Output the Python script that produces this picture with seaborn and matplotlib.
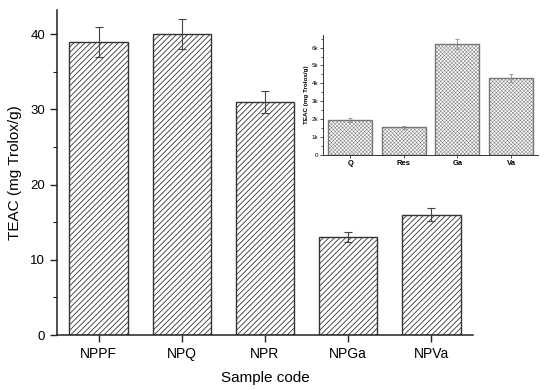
import matplotlib
matplotlib.use("Agg")
import matplotlib.pyplot as plt
import seaborn as sns
from matplotlib.ticker import MultipleLocator, FuncFormatter

# ---- data ----
categories = ["NPPF", "NPQ", "NPR", "NPGa", "NPVa"]
teac = [39.0, 40.0, 31.0, 13.0, 16.0]
teac_err = [2.0, 2.0, 1.5, 0.65, 0.85]

inset_categories = ["Q", "Res", "Ga", "Va"]
inset_teac = [1930, 1530, 6200, 4280]
inset_err = [120, 70, 300, 220]

sns.set_theme(style="ticks")
plt.rcParams["font.family"] = ["Liberation Sans", "DejaVu Sans"]
plt.rcParams["text.color"] = "black"
plt.rcParams["axes.labelcolor"] = "black"

fig = plt.figure(figsize=(5.5, 3.9), dpi=100)
ax = fig.add_axes([0.1036, 0.141, 0.7564, 0.833])

with plt.rc_context({"hatch.linewidth": 0.6, "hatch.color": "#555555"}):
    sns.barplot(x=categories, y=teac, color="white", edgecolor="#333333",
                linewidth=1.0, hatch="//////", width=0.7, errorbar=None, ax=ax)
ax.errorbar(range(len(categories)), teac, yerr=teac_err, fmt="none",
            ecolor="#444444", elinewidth=0.8, capsize=3, capthick=0.8)

ax.set_xlim(-0.5, 4.5)
ax.set_ylim(0, 43.2)
ax.yaxis.set_major_locator(MultipleLocator(10))
ax.yaxis.set_minor_locator(MultipleLocator(5))
ax.tick_params(axis="both", which="major", direction="out", length=5, width=1.0,
               colors="#222222", labelcolor="black", labelsize=9.5)
ax.tick_params(axis="y", which="minor", direction="out", length=3, width=0.8, colors="#222222")
ax.tick_params(axis="x", labelsize=10)
for s in ["top", "right"]:
    ax.spines[s].set_visible(False)
for s in ["left", "bottom"]:
    ax.spines[s].set_linewidth(1.1)
    ax.spines[s].set_color("#222222")
ax.set_xlabel("Sample code", fontsize=11, labelpad=7)
ax.set_ylabel("TEAC (mg Trolox/g)", fontsize=11, labelpad=6)

# ---- inset ----
ax2 = fig.add_axes([0.588, 0.603, 0.39, 0.307])
ax2.set_facecolor("white")
with plt.rc_context({"hatch.linewidth": 0.35, "hatch.color": "#999999"}):
    sns.barplot(x=inset_categories, y=inset_teac, color="white", edgecolor="#777777",
                linewidth=1.0, hatch="xxxxxxxxx", width=0.82, errorbar=None, ax=ax2)
ax2.errorbar(range(len(inset_categories)), inset_teac, yerr=inset_err, fmt="none",
             ecolor="#888888", elinewidth=0.6, capsize=1.5, capthick=0.6)
ax2.set_xlim(-0.5, 3.5)
ax2.set_ylim(0, 6700)
ax2.yaxis.set_major_locator(MultipleLocator(1000))
ax2.yaxis.set_minor_locator(MultipleLocator(500))
ax2.yaxis.set_major_formatter(FuncFormatter(lambda v, p: "0" if v == 0 else f"{int(v/1000)}k"))
ax2.tick_params(axis="both", which="major", direction="out", length=2, width=0.6,
                colors="#333333", labelcolor="black", labelsize=4.5, pad=1.5)
ax2.tick_params(axis="y", which="minor", direction="out", length=1.2, width=0.5)
for lab in ax2.get_xticklabels():
    lab.set_fontweight("bold")
    lab.set_fontsize(5.5)
for s in ["top", "right"]:
    ax2.spines[s].set_visible(False)
for s in ["left", "bottom"]:
    ax2.spines[s].set_linewidth(0.7)
    ax2.spines[s].set_color("#333333")
ax2.set_xlabel("")
ax2.set_ylabel("TEAC (mg Trolox/g)", fontsize=4.5, fontweight="bold", labelpad=2)

fig.savefig("out.png", dpi=100)
